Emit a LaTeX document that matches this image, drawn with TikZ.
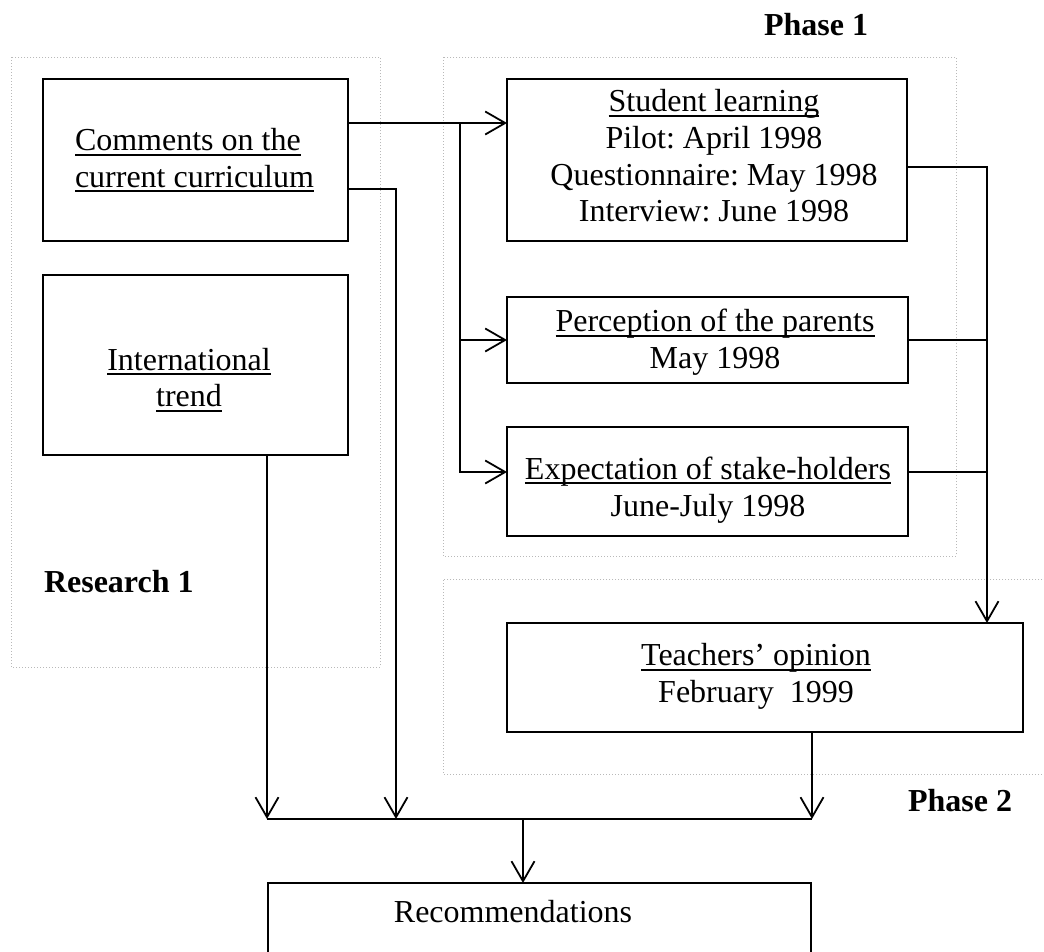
\documentclass[tikz,border=0pt]{standalone}
\usepackage{fontspec}
\setmainfont{Liberation Serif}
\usetikzlibrary{arrows.meta,calc}
\newcommand\myul[1]{\setbox0=\hbox{#1}\rlap{\rule[-5pt]{\wd0}{2.2pt}}\box0}
\frenchspacing
\begin{document}
\begin{tikzpicture}[x=1pt,y=-1pt,
  every node/.style={font=\fontsize{32}{36.7}\selectfont\frenchspacing, inner sep=0pt, outer sep=0pt},
  stepbox/.style={draw, line width=1.8pt, rectangle, inner sep=0pt},
  txt/.style={align=center},
  lbl/.style={font=\fontsize{32}{36.7}\selectfont\bfseries},
  conn/.style={line width=1.8pt},
  arr/.style={conn, -{Straight Barb[length=20pt,width=23pt]}},
  zone/.style={gray!55, line width=1pt, dash pattern=on 1pt off 2pt}
]
\clip (0,0) rectangle (1044,951);
\fill[white] (0,0) rectangle (1044,951);
% zones
\draw[zone] (11,57) rectangle (380,667);
\draw[zone] (443,57) rectangle (956,556);
\draw[zone] (1060,579) -- (443,579) -- (443,774) -- (1060,774);
% boxes
\node[stepbox, minimum width=305pt, minimum height=162pt] (comments) at (195.5,160) {};
\node[stepbox, minimum width=305pt, minimum height=180pt] (intl) at (195.5,365) {};
\node[stepbox, minimum width=400pt, minimum height=162pt] (student) at (707,160) {};
\node[stepbox, minimum width=401pt, minimum height=86pt] (parents) at (707.5,340) {};
\node[stepbox, minimum width=401pt, minimum height=109pt] (expect) at (707.5,481.5) {};
\node[stepbox, minimum width=516pt, minimum height=109pt] (teachers) at (765,677.5) {};
\node[stepbox, minimum width=543pt, minimum height=87pt] (rec) at (539.5,926.5) {};
% texts
\node[align=left] (commentst) at (194.5,160.5) {\myul{Comments on the}\\\myul{current curriculum}};
\node[txt] (intlt) at (189,380) {\myul{International}\\\myul{trend}};
\node[txt] (studentt) at (714,156) {\myul{Student learning}\\Pilot: April 1998\\Questionnaire: May 1998\\Interview: June 1998};
\node[txt] (parentst) at (715,342.5) {\myul{Perception of the parents}\\May 1998};
\node[txt] (expectt) at (708,490) {\myul{Expectation of stake-holders}\\June-July 1998};
\node[txt] (teacherst) at (756,676.5) {\myul{Teachers’ opinion}\\February~~1999};
\node[anchor=base] (rect) at (513,922) {Recommendations};
% labels
\node[lbl, anchor=base] (ph1) at (816,35) {Phase 1};
\node[lbl, anchor=base west] (res1) at (44,592) {Research 1};
\node[lbl, anchor=base] (ph2) at (960,811) {Phase 2};
% connectors
\coordinate (c1) at ([yshift=-44pt]comments.north east);
\coordinate (j1) at ([xshift=112pt]c1);
\draw[arr] (c1) -- (c1 -| student.west);
\draw[arr] (j1) |- ([yshift=9.5pt]expect.west);
\draw[arr] (j1 |- parents.west) -- (parents.west);
\coordinate (c2) at ([yshift=-110pt]comments.north east);
\coordinate (c2b) at ([xshift=48pt]c2);
\coordinate (mL) at ([xshift=71.5pt,yshift=-364pt]intl.south);
\coordinate (tb) at ([xshift=47pt]teachers.south);
\draw[arr] (c2) -- (c2b) -- (c2b |- mL);
\draw[arr] (intl.south -| mL) -- (mL);
\draw[arr] (tb) -- (tb |- mL);
\draw[conn] (mL) -- (tb |- mL);
\draw[arr] ([xshift=-16.5pt]rec.north |- mL) -- ([xshift=-16.5pt]rec.north);
\coordinate (s1) at ([yshift=-7pt]student.east);
\coordinate (rv) at ([xshift=80pt]s1);
\draw[arr] (s1) -- (rv) -- (rv |- teachers.north);
\draw[conn] (parents.east) -- (parents.east -| rv);
\draw[conn] ([yshift=9.5pt]expect.east) -- ([yshift=9.5pt]expect.east -| rv);
\end{tikzpicture}
\end{document}
